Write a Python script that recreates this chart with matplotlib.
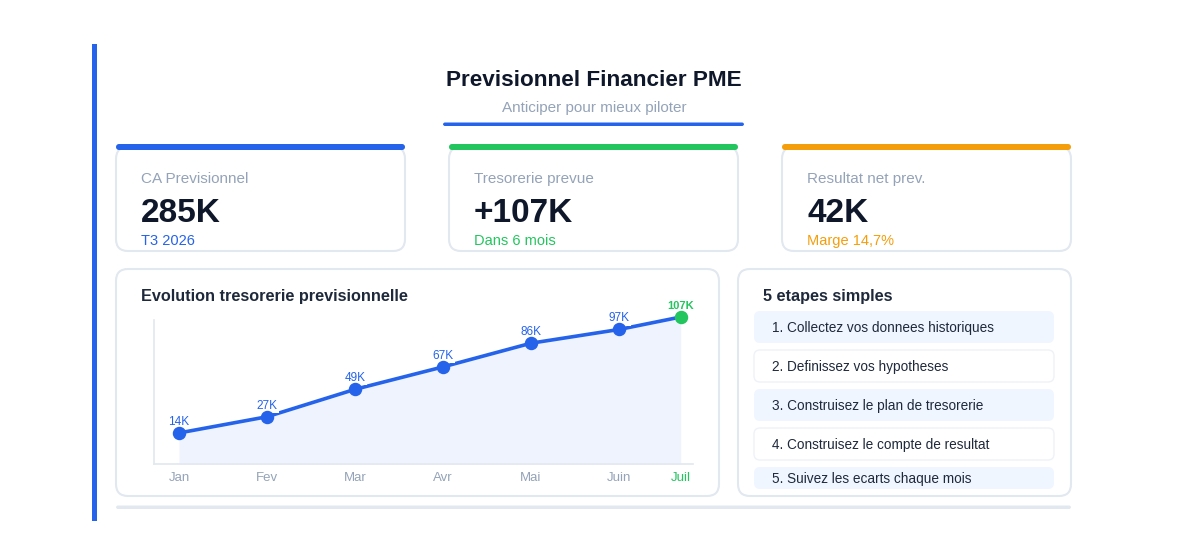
import numpy as np
from matplotlib import pyplot as plt
from matplotlib.patches import FancyBboxPatch, Rectangle

plt.rcParams['font.family'] = ['Liberation Sans', 'DejaVu Sans']

# data
kpi_labels = ['CA Previsionnel', 'Tresorerie prevue', 'Resultat net prev.']
kpi_values = ['285K', '+107K', '42K']
kpi_notes = ['T3 2026', 'Dans 6 mois', 'Marge 14,7%']
kpi_colors = ['#2563eb', '#22c55e', '#f59e0b']

months = ['Jan', 'Fev', 'Mar', 'Avr', 'Mai', 'Juin', 'Juil']
treso = [14, 27, 49, 67, 86, 97, 107]

steps = ['1. Collectez vos donnees historiques',
         '2. Definissez vos hypotheses',
         '3. Construisez le plan de tresorerie',
         '4. Construisez le compte de resultat',
         '5. Suivez les ecarts chaque mois']

BLUE = '#2563eb'
GREEN = '#22c55e'
DARK = '#0f172a'
GRAY = '#94a3b8'
BORDER = '#e2e8f0'

W, H = 1200, 550
fig = plt.figure(figsize=(12, 5.5), dpi=100)
bg = fig.add_axes([0, 0, 1, 1])
bg.set_xlim(0, W)
bg.set_ylim(H, 0)
bg.axis('off')


def card(x0, y0, x1, y1, fc='white', ec=BORDER, lw=1.5, r=12, z=1):
    p = FancyBboxPatch((x0, y0), x1 - x0, y1 - y0,
                       boxstyle='round,pad=0,rounding_size=%d' % r,
                       fc=fc, ec=ec, lw=lw, zorder=z)
    bg.add_patch(p)


# left accent bar
bg.add_patch(Rectangle((92, 44), 5, 477, color=BLUE, lw=0))

# header
bg.text(594, 81, 'Previsionnel Financier PME', ha='center', va='center',
        fontsize=16.2, fontweight='bold', color=DARK)
bg.text(594, 108, 'Anticiper pour mieux piloter', ha='center', va='center',
        fontsize=11, color=GRAY)
card(443, 122.5, 744, 126, fc=BLUE, ec='none', lw=0, r=2)

# kpi cards
card_x = [116, 449, 782]
for i in range(3):
    x0 = card_x[i]
    card(x0, 147, x0 + 289, 251)
    card(x0, 144, x0 + 289, 150, fc=kpi_colors[i], ec='none', lw=0, r=3, z=2)
    bg.text(x0 + 25, 179, kpi_labels[i], va='center', fontsize=11, color=GRAY)
    bg.text(x0 + 25, 213, kpi_values[i], va='center', fontsize=24,
            fontweight='bold', color=DARK)
    bg.text(x0 + 25, 241, kpi_notes[i], va='center', fontsize=10.5,
            color=kpi_colors[i])

# chart card and steps card
card(116, 269, 719, 496)
card(738, 269, 1071, 496)
bg.text(141, 296, 'Evolution tresorerie previsionnelle', va='center',
        fontsize=11.7, fontweight='bold', color='#1e293b')
bg.text(763, 296, '5 etapes simples', va='center',
        fontsize=11.7, fontweight='bold', color='#1e293b')

# steps list
step_top = [311, 350, 389, 428, 467]
step_h = [32, 32, 32, 32, 22]
for i, s in enumerate(steps):
    if i % 2 == 0:
        card(754, step_top[i], 1054, step_top[i] + step_h[i], fc='#eff6ff',
             ec='none', lw=0, r=6, z=2)
    else:
        card(754, step_top[i], 1054, step_top[i] + step_h[i], fc='white',
             ec='#eef2f7', lw=1, r=6, z=2)
    ty = step_top[i] + 17 if step_h[i] == 32 else step_top[i] + 11.5
    bg.text(772, ty, s, va='center', fontsize=9.85, color='#1e293b', zorder=3)

# bottom bar
card(116, 505.5, 1071, 509, fc=BORDER, ec='none', lw=0, r=2)

# line chart
ax = fig.add_axes([154 / W, 1 - 464 / H, (693 - 154) / W, (464 - 320) / H])
ax.set_facecolor('none')
n = len(months)
xs = np.minimum(np.arange(n, dtype=float), 5.7)
ax.set_xlim(-0.284, 5.84)
ax.set_ylim(-10.9, 104.6)
ax.fill_between(xs, treso, -10.9, color='#eef3fd', lw=0, zorder=1)
ax.plot(xs, treso, color=BLUE, lw=2.6, zorder=2, clip_on=False)
ax.scatter(xs[:-1], treso[:-1], s=75, color=BLUE, zorder=5, clip_on=False)
ax.scatter(xs[-1:], treso[-1:], s=75, color=GREEN, zorder=5, clip_on=False)
for i in range(n):
    last = i == n - 1
    ax.annotate('%dK' % treso[i], (xs[i], treso[i]), xytext=(0, 8),
                textcoords='offset points', ha='center', va='center',
                fontsize=8.5 if not last else 8, color=GREEN if last else BLUE,
                fontweight='bold' if last else 'normal', zorder=4,
                annotation_clip=False,
                bbox=dict(boxstyle='square,pad=0.1', fc='white', ec='none')
                if not last else None)
for s in ['top', 'right']:
    ax.spines[s].set_visible(False)
for s in ['left', 'bottom']:
    ax.spines[s].set_color(BORDER)
    ax.spines[s].set_linewidth(1.2)
ax.set_yticks([])
ax.set_xticks(xs)
ax.set_xticklabels(months, fontsize=9.5)
ax.tick_params(axis='x', length=0, pad=6, colors=GRAY)
ax.get_xticklabels()[-1].set_color(GREEN)

fig.savefig('out.png', dpi=100)
